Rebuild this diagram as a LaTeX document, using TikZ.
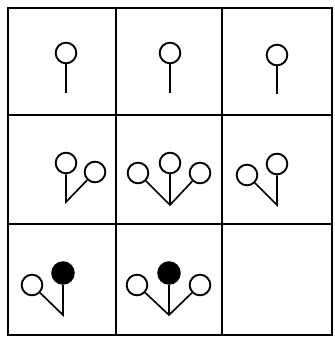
\documentclass[tikz,border=0pt]{standalone}
\tikzset{
  ring/.style={circle, draw, line width=1.6pt, inner sep=0pt, minimum size=0.62cm},
  blob/.style={ring, fill=black, minimum size=0.65cm},
  stem/.style={line width=1.4pt},
  frame/.style={line width=1.6pt}
}
\begin{document}
\begin{tikzpicture}[x=0.03cm, y=-0.03cm]
    % --- 画布大小 (按像素) ---
    \useasboundingbox (0,0) rectangle (334,337);

    % --- 绘制表格 ---
    \draw[frame] (8,8) rectangle (332,335);
    \draw[frame] (116,8) -- (116,335);
    \draw[frame] (222,8) -- (222,335);
    \draw[frame] (8,115) -- (332,115);
    \draw[frame] (8,224) -- (332,224);

    % --- 第一行: 单个圆 ---
    \node[ring] (a1) at (66,53) {};
    \coordinate (va) at (66,93);
    \draw[stem] (va) -- (a1);

    \node[ring] (b1) at (170,53) {};
    \coordinate (vb) at (170,93);
    \draw[stem] (vb) -- (b1);

    \node[ring] (c1) at (277,55) {};
    \coordinate (vc) at (277,94);
    \draw[stem] (vc) -- (c1);

    % --- 第二行: 两个或三个圆 ---
    \node[ring] (d1) at (66,163) {};
    \node[ring] (d2) at (95,172) {};
    \coordinate (vd) at (66,202);
    \draw[stem] (d1) -- (vd) -- (d2);

    \node[ring] (e1) at (138,173) {};
    \node[ring] (e2) at (170,163) {};
    \node[ring] (e3) at (200,173) {};
    \coordinate (ve) at (170,205);
    \draw[stem] (e1) -- (ve) -- (e3);
    \draw[stem] (ve) -- (e2);

    \node[ring] (f1) at (247,175) {};
    \node[ring] (f2) at (277,164) {};
    \coordinate (vf) at (277,205);
    \draw[stem] (f1) -- (vf) -- (f2);

    % --- 第三行: 实心圆 ---
    \node[ring] (g1) at (32,285) {};
    \node[blob] (g2) at (63,273) {};
    \coordinate (vg) at (63,315);
    \draw[stem] (g1) -- (vg) -- (g2);

    \node[ring] (h1) at (137,285) {};
    \node[blob] (h2) at (169,273) {};
    \node[ring] (h3) at (200,285) {};
    \coordinate (vh) at (169,315);
    \draw[stem] (h1) -- (vh) -- (h3);
    \draw[stem] (vh) -- (h2);

\end{tikzpicture}
\end{document}
